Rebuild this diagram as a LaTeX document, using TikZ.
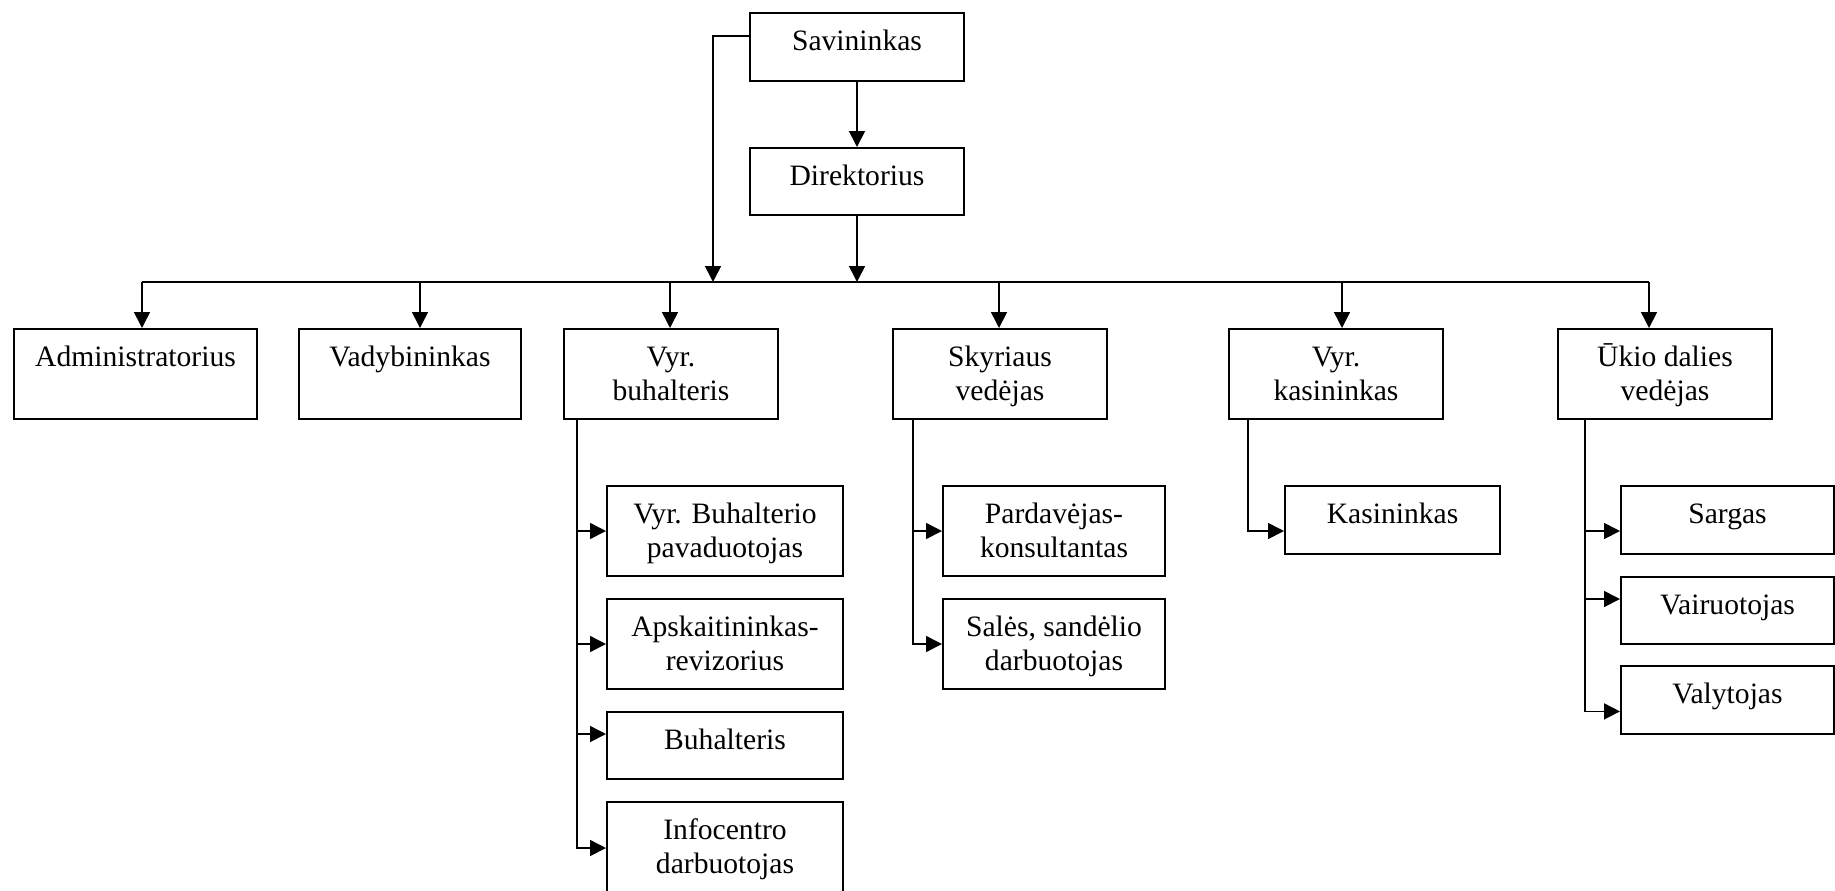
\documentclass[tikz,border=0pt]{standalone}
\usepackage{fontspec}
\setmainfont{Liberation Serif}
\usetikzlibrary{arrows.meta}
\begin{document}
\begin{tikzpicture}[x=0.5pt,y=-0.5pt,
  box/.style={draw, line width=1pt, inner sep=0pt, anchor=north west},
  lblbase/.style={anchor=base, inner sep=0pt, align=center,
    font=\fontsize{14.8}{17.2}\selectfont},
  lbl/.style={lblbase, yshift=-19pt},
  lbltwo/.style={lblbase, yshift=-36.2pt},
  ln/.style={line width=0.8pt},
  arr/.style={ln, -{Triangle[length=8pt,width=8pt]}}]
\useasboundingbox (0,0) rectangle (1835,890);
\clip (0,0) rectangle (1835,890);

% top of the chart
\node[box, minimum width=107pt, minimum height=34pt]   (sav) at (749,12) {};
\node[box, minimum width=107pt, minimum height=33.5pt] (dir) at (749,147) {};

% second level
\node[box, minimum width=121.5pt, minimum height=45pt] (adm)  at (13,328) {};
\node[box, minimum width=111pt,   minimum height=45pt] (vad)  at (298,328) {};
\node[box, minimum width=107pt,   minimum height=45pt] (vbuh) at (563,328) {};
\node[box, minimum width=107pt,   minimum height=45pt] (sky)  at (892,328) {};
\node[box, minimum width=107pt,   minimum height=45pt] (vkas) at (1228,328) {};
\node[box, minimum width=107pt,   minimum height=45pt] (ukio) at (1557,328) {};

% third level
\node[box, minimum width=118pt, minimum height=45pt]   (pav)   at (606,485) {};
\node[box, minimum width=118pt, minimum height=45pt]   (aps)   at (606,598) {};
\node[box, minimum width=118pt, minimum height=33.5pt] (buh)   at (606,711) {};
\node[box, minimum width=118pt, minimum height=46pt]   (info)  at (606,801) {};
\node[box, minimum width=111pt, minimum height=45pt]   (pard)  at (942,485) {};
\node[box, minimum width=111pt, minimum height=45pt]   (sales) at (942,598) {};
\node[box, minimum width=107.5pt, minimum height=34pt] (kas)   at (1284,485) {};
\node[box, minimum width=106.5pt, minimum height=34pt] (sarg)  at (1620,485) {};
\node[box, minimum width=106.5pt, minimum height=33.5pt] (vair) at (1620,576) {};
\node[box, minimum width=106.5pt, minimum height=34pt] (valy)  at (1620,665) {};

% labels
\node[lbl]    (tsav)  at (sav.north)   {Savininkas};
\node[lbl]    (tdir)  at (dir.north)   {Direktorius};
\node[lbl]    (tadm)  at (adm.north)   {Administratorius};
\node[lbl]    (tvad)  at (vad.north)   {Vadybininkas};
\node[lbltwo] (tvbuh) at (vbuh.north)  {Vyr.\\buhalteris};
\node[lbltwo] (tsky)  at (sky.north)   {Skyriaus\\vedėjas};
\node[lbltwo] (tvkas) at (vkas.north)  {Vyr.\\kasininkas};
\node[lbltwo] (tukio) at (ukio.north)  {Ūkio dalies\\vedėjas};
\node[lbltwo] (tpav)  at (pav.north)   {Vyr. Buhalterio\\pavaduotojas};
\node[lbltwo] (taps)  at (aps.north)   {Apskaitininkas-\\revizorius};
\node[lbl]    (tbuh)  at (buh.north)   {Buhalteris};
\node[lbltwo] (tinfo) at (info.north)  {Infocentro\\darbuotojas};
\node[lbltwo] (tpard) at (pard.north)  {Pardavėjas-\\konsultantas};
\node[lbltwo] (tsal)  at (sales.north) {Salės, sandėlio\\darbuotojas};
\node[lbl]    (tkas)  at (kas.north)   {Kasininkas};
\node[lbl]    (tsarg) at (sarg.north)  {Sargas};
\node[lbl]    (tvair) at (vair.north)  {Vairuotojas};
\node[lbl]    (tvaly) at (valy.north)  {Valytojas};

% distribution bus
\coordinate (dA) at (142,282);
\coordinate (dB) at (420,282);
\coordinate (dC) at (670,282);
\coordinate (dD) at (999,282);
\coordinate (dE) at (1342,282);
\coordinate (dF) at (1649,282);
\coordinate (jS) at (713,282);
\draw[ln] (dA) -- (dF);

\draw[arr] (sav) -- (dir);
\draw[arr] (dir.south) -- (dir.south |- dA);
\draw[arr] ([yshift=5.5pt]sav.west) -| (jS);

\draw[arr] (dA) -- (dA |- adm.north);
\draw[arr] (dB) -- (dB |- vad.north);
\draw[arr] (dC) -- (dC |- vbuh.north);
\draw[arr] (dD) -- (dD |- sky.north);
\draw[arr] (dE) -- (dE |- vkas.north);
\draw[arr] (dF) -- (dF |- ukio.north);

% subordinate trunks
\coordinate (tB) at (577,418);
\coordinate (tS) at (913,418);
\coordinate (tK) at (1248,418);
\coordinate (tU) at (1585,418);

\coordinate (buhIn)  at ([yshift=5.75pt]buh.west);
\coordinate (kasIn)  at ([yshift=-5.5pt]kas.west);
\coordinate (sargIn) at ([yshift=-5.5pt]sarg.west);
\coordinate (vairIn) at ([yshift=5.75pt]vair.west);
\coordinate (valyIn) at ([yshift=-5.7pt]valy.west);

\draw[arr] (tB) |- (info.west);
\draw[arr] (pav.west -| tB) -- (pav.west);
\draw[arr] (aps.west -| tB) -- (aps.west);
\draw[arr] (buhIn -| tB) -- (buhIn);

\draw[arr] (tS) |- (sales.west);
\draw[arr] (pard.west -| tS) -- (pard.west);

\draw[arr] (tK) |- (kasIn);

\draw[arr] (tU) |- (valyIn);
\draw[arr] (sargIn -| tU) -- (sargIn);
\draw[arr] (vairIn -| tU) -- (vairIn);
\end{tikzpicture}
\end{document}
